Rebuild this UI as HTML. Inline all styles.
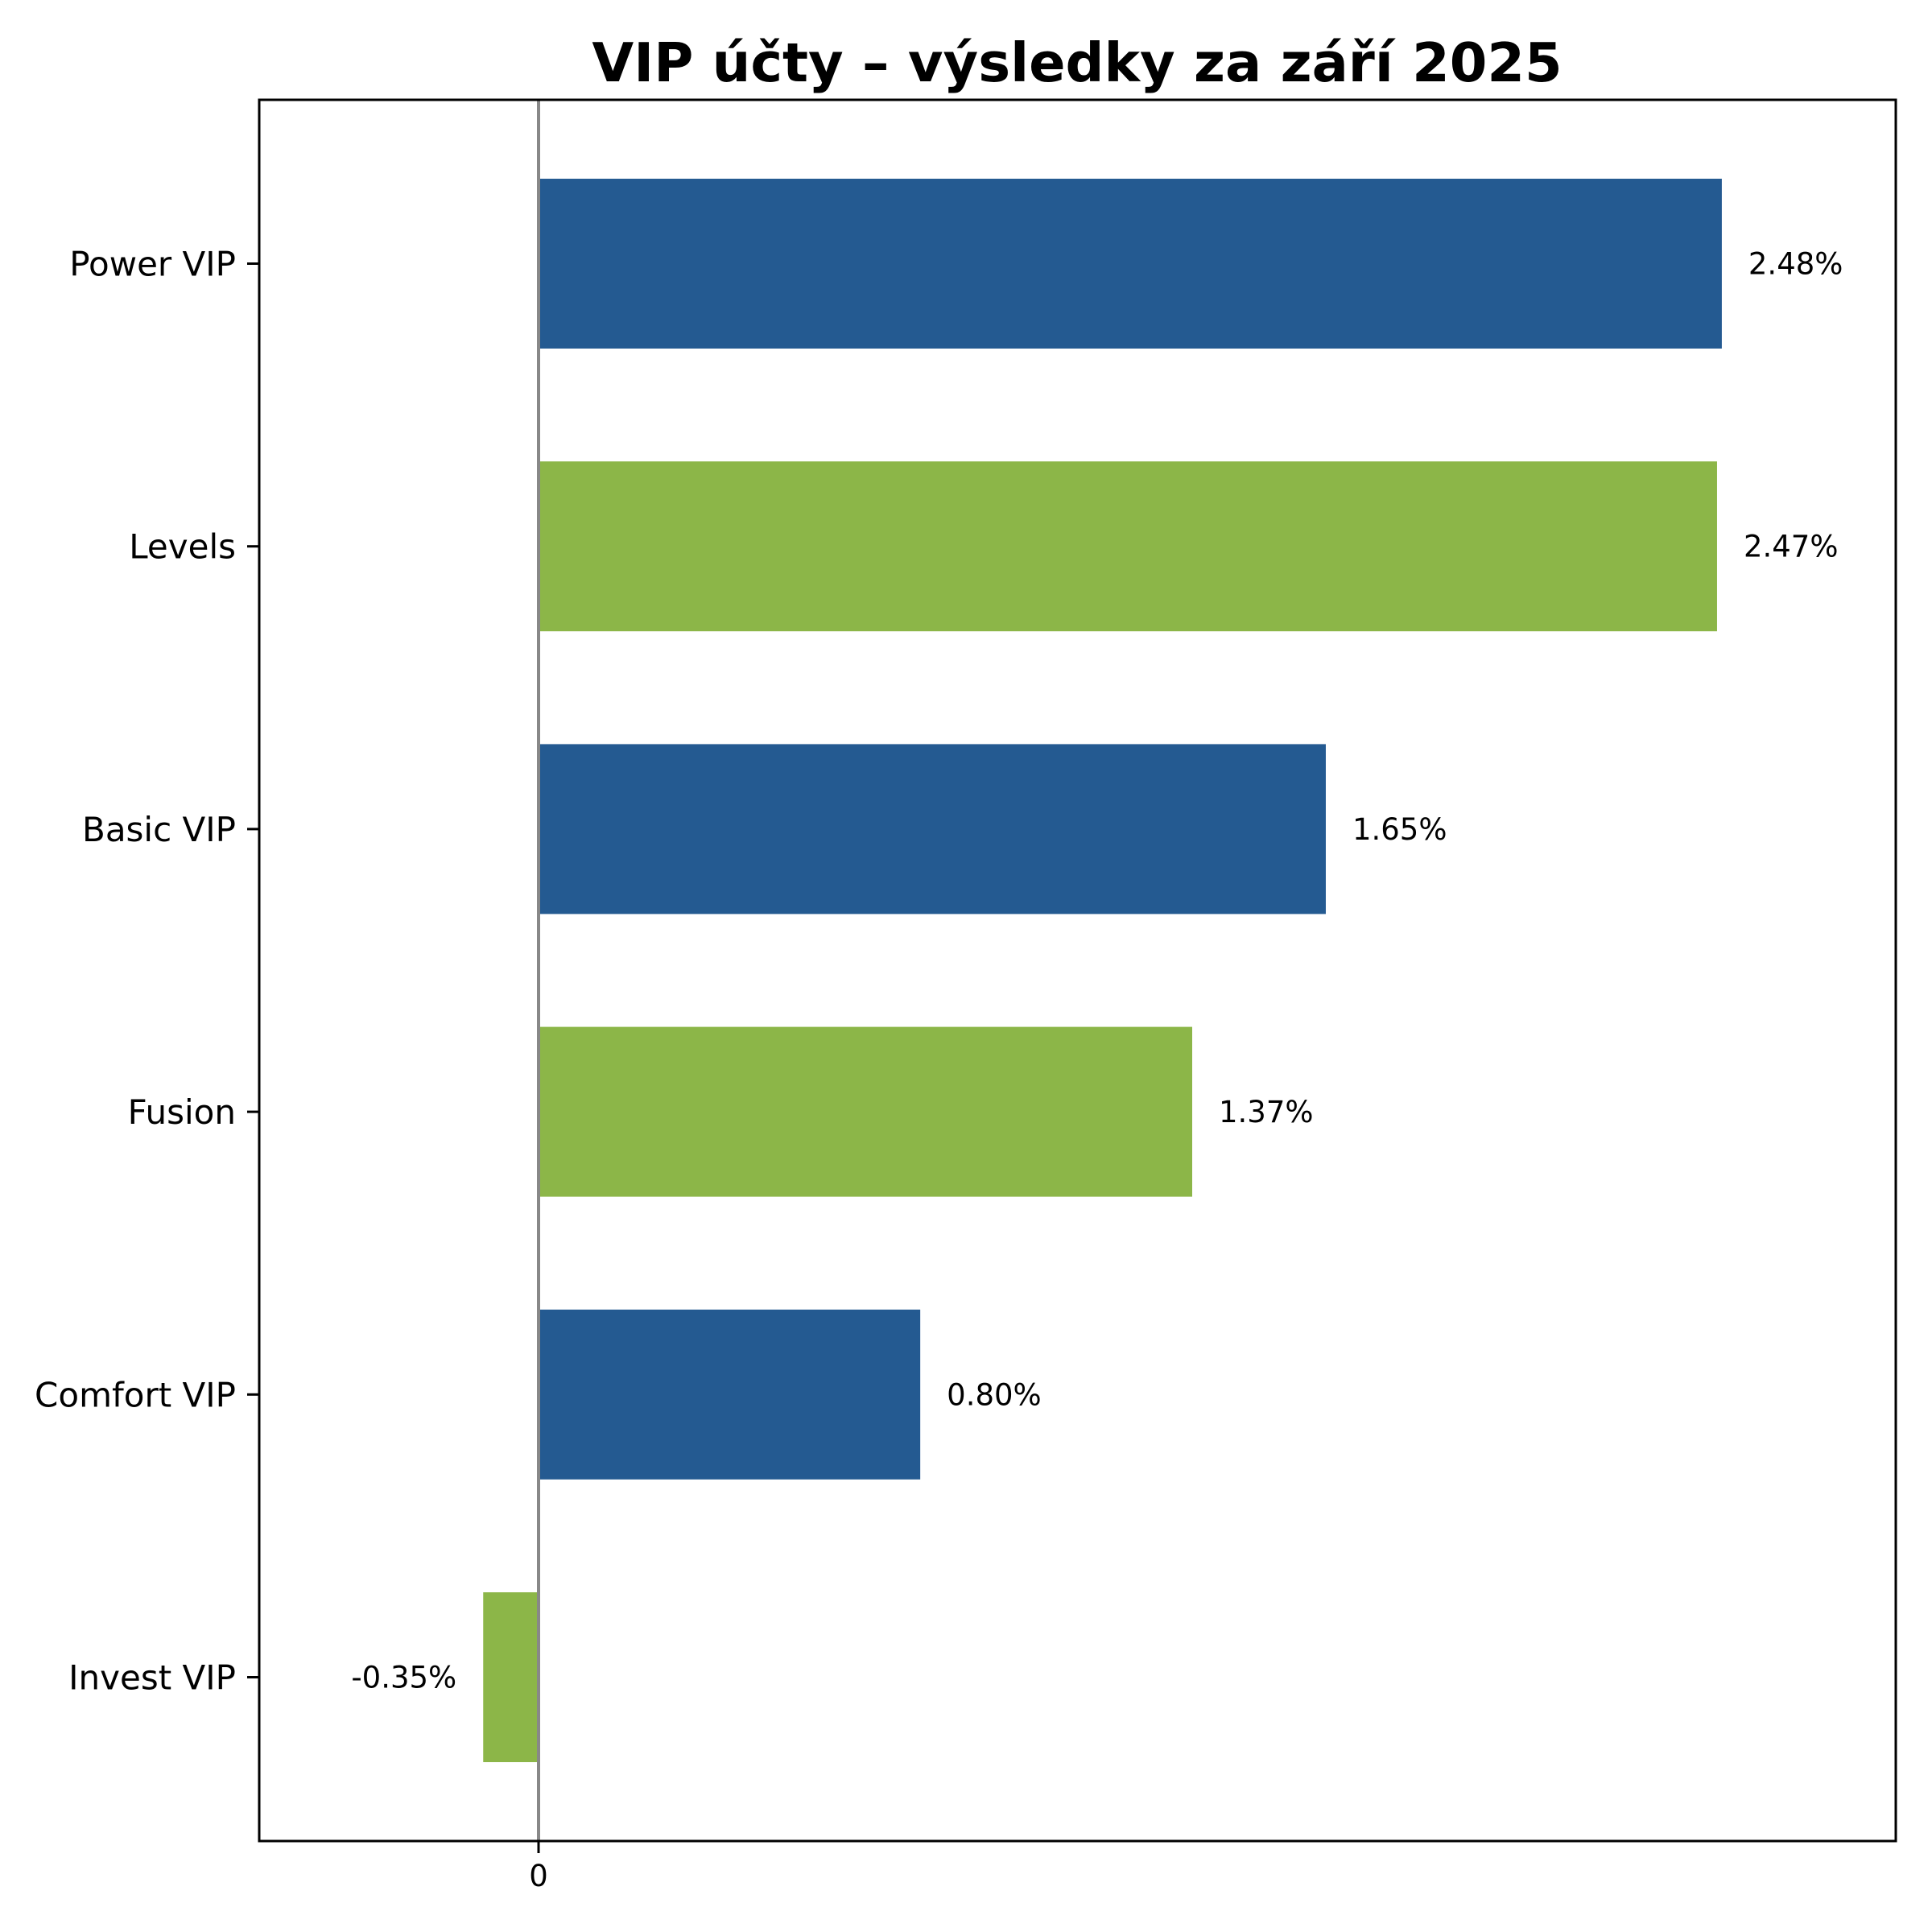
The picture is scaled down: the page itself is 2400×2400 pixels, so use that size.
<!DOCTYPE html>
<html><head><meta charset="utf-8"><style>
html,body{margin:0;padding:0;background:#fff;}
svg{display:block;font-family:"DejaVu Sans","Liberation Sans",sans-serif;}
</style></head><body>
<svg id="chart" width="2400" height="2400" viewBox="0 0 2400 2400" xmlns="http://www.w3.org/2000/svg">
<rect width="2400" height="2400" fill="#fff"/>
<text x="1338" y="101" text-anchor="middle" font-size="67" font-weight="bold">VIP účty – výsledky za září 2025</text>
<g id="bars"></g>
<line x1="669" y1="124" x2="669" y2="2287" stroke="#888" stroke-width="4"/>
<rect x="322" y="124" width="2033" height="2163" fill="none" stroke="#000" stroke-width="3"/>
<line x1="669" y1="2287" x2="669" y2="2302" stroke="#000" stroke-width="3"/>
<text x="669" y="2343" text-anchor="middle" font-size="37">0</text>
<g id="ylabels"></g>
</svg>
<script>
const categories = ["Power VIP","Levels","Basic VIP","Fusion","Comfort VIP","Invest VIP"];
const values = [2.48, 2.47, 1.65, 1.37, 0.80, -0.116];
const valueLabels = ["2.48%","2.47%","1.65%","1.37%","0.80%","-0.35%"];
const colors = ["#245a91","#8cb648","#245a91","#8cb648","#245a91","#8cb648"];

const NS = "http://www.w3.org/2000/svg";
const x0 = 669, pxPerUnit = 592.7;
function xScale(v){ return x0 + v * pxPerUnit; }
function yScale(i){ return 327.5 + i * 351.2; }
const barH = 211;
const bars = document.getElementById("bars");
const yl = document.getElementById("ylabels");
categories.forEach((c, i) => {
  const v = values[i];
  const xa = xScale(Math.min(0, v)), xb = xScale(Math.max(0, v));
  const yc = yScale(i);
  const r = document.createElementNS(NS, "rect");
  r.setAttribute("x", xa); r.setAttribute("y", yc - barH/2);
  r.setAttribute("width", xb - xa); r.setAttribute("height", barH);
  r.setAttribute("fill", colors[i]);
  
  
  bars.appendChild(r);
  const t = document.createElementNS(NS, "text");
  t.setAttribute("font-size", "37");
  t.setAttribute("y", yc + 13);
  if (v >= 0) { t.setAttribute("x", xScale(v) + 33); t.setAttribute("text-anchor", "start"); }
  else { t.setAttribute("x", xScale(v) - 33); t.setAttribute("text-anchor", "end"); }
  t.textContent = valueLabels[i];
  
  
  bars.appendChild(t);
  const tk = document.createElementNS(NS, "line");
  tk.setAttribute("x1", 307); tk.setAttribute("x2", 322);
  tk.setAttribute("y1", yc); tk.setAttribute("y2", yc);
  tk.setAttribute("stroke", "#000"); tk.setAttribute("stroke-width", "3");
  
  
  yl.appendChild(tk);
  const lb = document.createElementNS(NS, "text");
  lb.setAttribute("x", 293); lb.setAttribute("y", yc + 15);
  lb.setAttribute("text-anchor", "end"); lb.setAttribute("font-size", "42");
  lb.textContent = c;
  
  
  yl.appendChild(lb);
});
</script>
</body></html>
